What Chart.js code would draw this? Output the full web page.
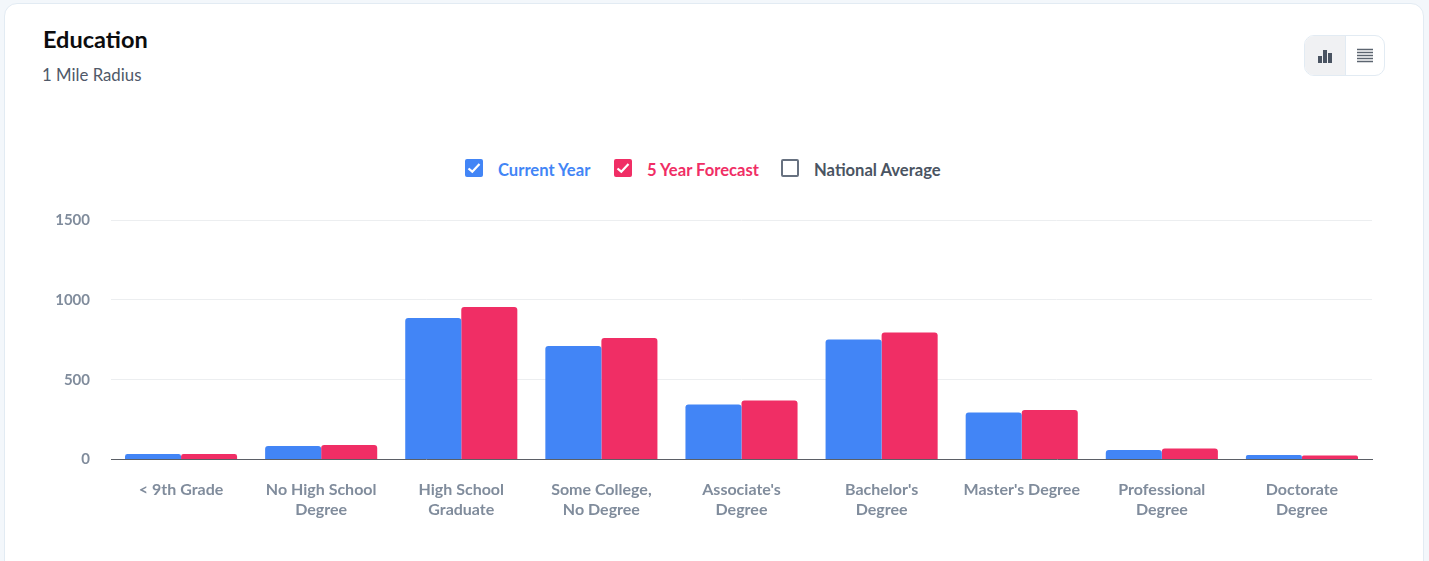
<!DOCTYPE html>
<html>
<head>
<meta charset="utf-8">
<title>Education</title>
<script src="https://cdn.jsdelivr.net/npm/chart.js@4/dist/chart.umd.min.js"></script>
<style>
  html, body { margin: 0; height: 100%; overflow: hidden; background: #f3f7fb; font-family: Lato, sans-serif; }
  .card { position: absolute; left: 4px; top: 3px; width: 1418px; height: 590px; background: #fff; border: 1px solid #e2ebf3; border-radius: 13px; }
  h1 { position: absolute; left: 43px; top: 26px; margin: 0; font-size: 23.5px; line-height: 26px; font-weight: 700; color: #0c0c0e; }
  .sub { position: absolute; left: 42px; top: 65px; font-size: 16.8px; line-height: 20px; color: #4f5969; }
  .toggle { position: absolute; left: 1304px; top: 35px; width: 79px; height: 39px; border: 1px solid #e2ebf3; border-radius: 10px; overflow: hidden; display: flex; background: #fff; }
  .toggle div { display: flex; align-items: center; justify-content: center; }
  .toggle .on { width: 40px; background: #f0f1f3; border-right: 1px solid #e2ebf3; }
  .toggle .off { flex: 1; }
  #legend { position: absolute; left: 465px; top: 159px; height: 20px; }
  .item { position: absolute; top: 0; height: 20px; white-space: nowrap; font-size: 16.6px; line-height: 20px; font-weight: 700; }
  .box { position: absolute; left: 0; top: 0; width: 18px; height: 18px; border-radius: 2px; box-sizing: border-box; }
  .name { position: absolute; left: 33px; top: 1px; }
  #wrap { position: absolute; left: 40px; top: 190px; width: 1340px; height: 345px; }
</style>
</head>
<body>
<div class="card"></div>
<h1>Education</h1>
<div class="sub">1 Mile Radius</div>
<div class="toggle">
  <div class="on">
    <svg width="14" height="14"><rect x="0" y="7" width="4" height="7" fill="#4a5462"/><rect x="5" y="1" width="4" height="13" fill="#4a5462"/><rect x="10" y="4" width="4" height="10" fill="#4a5462"/></svg>
  </div>
  <div class="off">
    <svg width="16" height="16"><path d="M0 1.5h16M0 4.5h16M0 7.5h16M0 10.5h16M0 13.5h16" stroke="#5c6570" stroke-width="1.5"/></svg>
  </div>
</div>
<div id="legend"></div>
<div id="wrap"><canvas id="educationChart"></canvas></div>

<script>
"use strict";

const categories = [
  "< 9th Grade",
  ["No High School", "Degree"],
  ["High School", "Graduate"],
  ["Some College,", "No Degree"],
  ["Associate's", "Degree"],
  ["Bachelor's", "Degree"],
  "Master's Degree",
  ["Professional", "Degree"],
  ["Doctorate", "Degree"]
];
const currentYear = [34, 85, 886, 711, 344, 751, 294, 60, 28];
const fiveYearForecast = [34, 91, 955, 761, 369, 795, 310, 69, 25];
const yTicks = [0, 500, 1000, 1500];

const legendNames = ["Current Year", "5 Year Forecast", "National Average"];
const legendChecked = [true, true, false];
const legendColors = ["#4285f6", "#f02e65", "#4a5462"];
const legendLefts = [0, 149, 316];

const legend = document.getElementById("legend");
legendNames.forEach((name, i) => {
  const item = document.createElement("div");
  item.className = "item";
  item.style.left = legendLefts[i] + "px";
  item.style.color = legendColors[i];

  const box = document.createElement("div");
  box.className = "box";
  if (legendChecked[i]) {
    box.style.background = legendColors[i];
    box.innerHTML = '<svg width="18" height="18"><path d="M3.5 9.5l3.8 3.2L14.5 5" fill="none" stroke="#fff" stroke-width="2.2"/></svg>';
  } else {
    box.style.border = "2px solid #677180";
  }
  item.appendChild(box);

  const label = document.createElement("span");
  label.className = "name";
  label.textContent = name;
  item.appendChild(label);
  legend.appendChild(item);
});

new Chart(document.getElementById("educationChart"), {
  type: "bar",
  data: {
    labels: categories,
    datasets: [
      { label: legendNames[0], data: currentYear, backgroundColor: legendColors[0] },
      { label: legendNames[1], data: fiveYearForecast, backgroundColor: legendColors[1] }
    ]
  },
  options: {
    responsive: true,
    maintainAspectRatio: false,
    animation: false,
    layout: { padding: { top: 0, right: 8, left: 0, bottom: 0 } },
    datasets: {
      bar: {
        categoryPercentage: 0.8,
        barPercentage: 1,
        borderRadius: { topLeft: 3, topRight: 3 },
        borderSkipped: "bottom"
      }
    },
    plugins: {
      legend: { display: false },
      title: { display: false },
      tooltip: { enabled: false }
    },
    scales: {
      x: {
        grid: { display: false },
        border: { color: "#5b5f66", width: 1 },
        ticks: {
          color: "#808c9c",
          font: { family: "Lato", size: 16, weight: 700, lineHeight: 1.25 },
          maxRotation: 0,
          autoSkip: false,
          padding: 12
        },
        afterFit(axis) { axis.height = 75.5; }
      },
      y: {
        min: 0,
        max: 1500,
        afterBuildTicks(axis) { axis.ticks = yTicks.map(value => ({ value })); },
        grid: { color: "#eceef0", drawTicks: false },
        border: { display: false },
        ticks: {
          color: "#808c9c",
          font: { family: "Lato", size: 15, weight: 700 },
          padding: 21,
          callback: value => String(value)
        },
        afterFit(axis) { axis.width = 71; }
      }
    }
  }
});
</script>
</body>
</html>
